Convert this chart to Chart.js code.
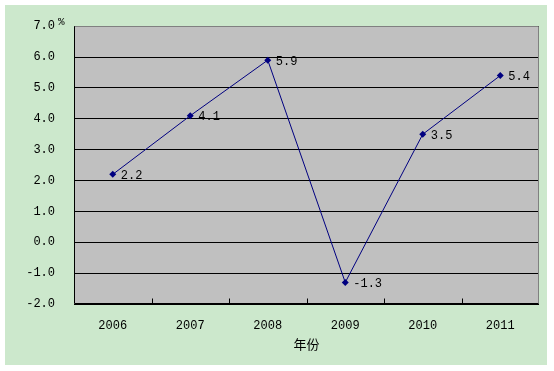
<!DOCTYPE html>
<html><head><meta charset="utf-8">
<script src="https://cdn.jsdelivr.net/npm/chart.js@4"></script>
<style>html,body{margin:0;padding:0;background:#fff}canvas{display:block}</style>
</head><body>
<canvas id="c" width="554" height="371" style="width:554px;height:371px"></canvas>
<script>
const categories = ['2006', '2007', '2008', '2009', '2010', '2011'];
const growth = [2.2, 4.1, 5.9, -1.3, 3.5, 5.4];
const yMin = -2, yMax = 7, yStep = 1;
const unitLabel = '%';
const xTitle = '年份';

const MONO = '"Liberation Mono", "DejaVu Sans Mono", monospace';

const decor = {
  id: 'decor',
  beforeDraw(chart) {
    const ctx = chart.ctx, a = chart.chartArea;
    ctx.save();
    ctx.fillStyle = '#ffffff';
    ctx.fillRect(0, 0, chart.width, chart.height);
    ctx.fillStyle = '#cce8cc';
    ctx.fillRect(5, 5, 542, 360);
    ctx.fillStyle = '#c0c0c0';
    ctx.fillRect(a.left, a.top, a.right - a.left, a.bottom - a.top);
    ctx.restore();
  },
  beforeDatasetsDraw(chart) {
    const ctx = chart.ctx, a = chart.chartArea;
    const L = Math.round(a.left) + 0.5, R = Math.round(a.right) - 0.5;
    const T = Math.round(a.top) + 0.5, B = Math.round(a.bottom) - 0.5;
    ctx.save();
    ctx.lineWidth = 1;
    ctx.strokeStyle = '#808080';
    ctx.beginPath();
    ctx.moveTo(L, T); ctx.lineTo(R, T); ctx.lineTo(R, B);
    ctx.stroke();
    ctx.strokeStyle = '#000000';
    ctx.beginPath();
    ctx.moveTo(L, T); ctx.lineTo(L, B); ctx.lineTo(R, B);
    ctx.stroke();
    const xs = chart.scales.x;
    ctx.beginPath();
    for (let i = 1; i < categories.length; i++) {
      const px = Math.round(xs.getPixelForValue(i - 0.5)) + 0.5;
      ctx.moveTo(px, B); ctx.lineTo(px, B - 5);
    }
    ctx.stroke();
    ctx.fillStyle = '#000';
    ctx.font = '11px ' + MONO;
    ctx.textBaseline = 'middle';
    ctx.textAlign = 'left';
    ctx.fillText(unitLabel, 58, 22);
    ctx.restore();
  },
  afterDatasetsDraw(chart) {
    const ctx = chart.ctx;
    const meta = chart.getDatasetMeta(0);
    ctx.save();
    ctx.fillStyle = '#000';
    ctx.font = '12px ' + MONO;
    ctx.textBaseline = 'middle';
    ctx.textAlign = 'left';
    meta.data.forEach((pt, i) => {
      ctx.fillText(growth[i].toFixed(1), pt.x + 8, pt.y + 1.5);
    });
    ctx.restore();
  }
};

new Chart(document.getElementById('c'), {
  type: 'line',
  data: {
    labels: categories,
    datasets: [{
      data: growth,
      borderColor: '#000080',
      backgroundColor: '#000080',
      borderWidth: 1,
      pointStyle: 'rectRot',
      pointRadius: 3.5,
      pointBorderWidth: 0,
      tension: 0,
      fill: false
    }]
  },
  options: {
    responsive: false,
    animation: false,
    events: [],
    layout: { padding: { left: 0, right: 15, top: 24, bottom: 0 } },
    plugins: { legend: { display: false }, tooltip: { enabled: false } },
    scales: {
      x: {
        type: 'category',
        offset: true,
        grid: { display: false, drawTicks: false },
        border: { display: false },
        ticks: { color: '#000', font: { family: MONO, size: 12 }, padding: 15, maxRotation: 0 },
        title: { display: true, text: xTitle, color: '#000',
                 font: { family: '"Noto Sans CJK SC", sans-serif', size: 13 },
                 padding: { top: 0, bottom: 19 } },
        afterFit(s) { s.height = 67; }
      },
      y: {
        min: yMin, max: yMax,
        grid: { color: '#000000', lineWidth: 1, drawTicks: false },
        border: { display: false },
        ticks: { stepSize: yStep, color: '#000', font: { family: MONO, size: 12 }, padding: 19,
                 callback: v => Number(v).toFixed(1) },
        afterFit(s) { s.width = 74; }
      }
    }
  },
  plugins: [decor]
});
</script>
</body></html>
